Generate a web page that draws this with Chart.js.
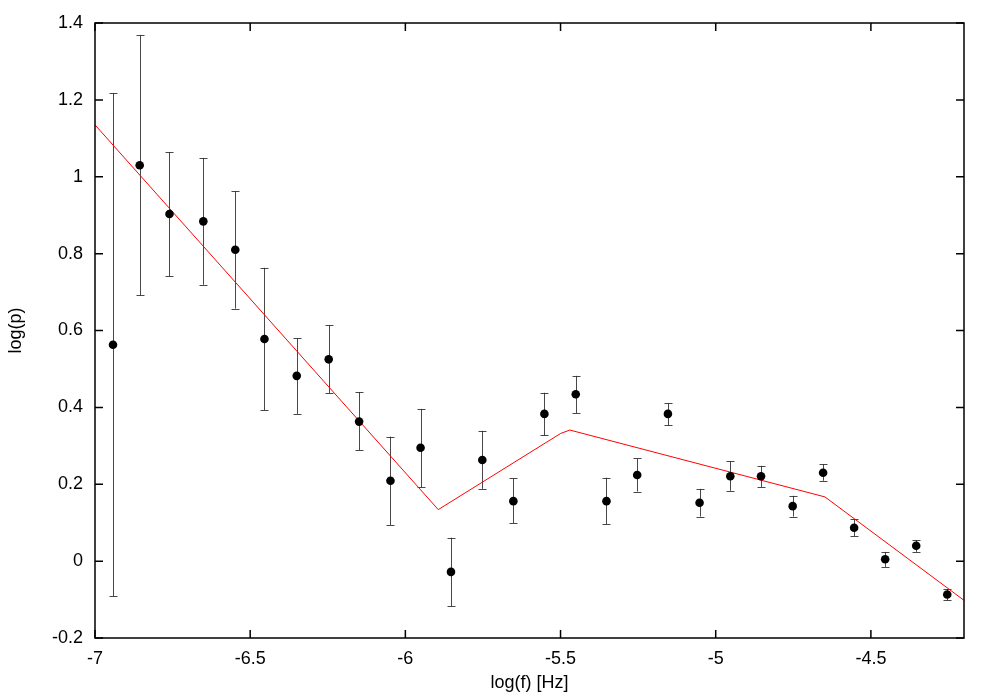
<!DOCTYPE html>
<html>
<head>
<meta charset="utf-8">
<script src="https://cdn.jsdelivr.net/npm/chart.js@4/dist/chart.umd.min.js"></script>
<style>
  html, body { margin: 0; padding: 0; background: #fff; }
  #wrap { width: 1000px; height: 700px; }
</style>
</head>
<body>
<div id="wrap"><canvas id="c" width="1000" height="700"></canvas></div>
<script>
// ---- data ----
const logF = [-6.942,-6.856,-6.760,-6.651,-6.548,-6.454,-6.350,-6.247,-6.149,-6.048,-5.951,-5.853,-5.752,-5.652,-5.552,-5.451,-5.352,-5.253,-5.154,-5.052,-4.953,-4.854,-4.752,-4.654,-4.554,-4.454,-4.354,-4.254];
const logP = [0.563,1.030,0.903,0.884,0.810,0.578,0.482,0.525,0.363,0.209,0.295,-0.028,0.263,0.156,0.383,0.434,0.156,0.224,0.383,0.152,0.221,0.221,0.143,0.230,0.087,0.005,0.040,-0.087];
const errHigh = [1.217,1.369,1.064,1.049,0.962,0.763,0.580,0.614,0.440,0.324,0.396,0.061,0.339,0.215,0.438,0.482,0.217,0.267,0.411,0.188,0.260,0.248,0.170,0.252,0.109,0.024,0.055,-0.073];
const errLow = [-0.092,0.692,0.741,0.719,0.657,0.393,0.383,0.437,0.289,0.094,0.192,-0.118,0.188,0.099,0.327,0.385,0.096,0.181,0.353,0.116,0.183,0.193,0.116,0.209,0.065,-0.015,0.024,-0.102];
const fitX = [-7.0, -5.894, -5.50, -5.470, -4.648, -4.2];
const fitY = [1.135, 0.134, 0.332, 0.341, 0.167, -0.102];
const xTicks = [-7, -6.5, -6, -5.5, -5, -4.5];
const yTicks = [-0.2, 0, 0.2, 0.4, 0.6, 0.8, 1, 1.2, 1.4];
const xTitle = 'log(f) [Hz]';
const yTitle = 'log(p)';

const FONT = 'Liberation Sans, Arial, Helvetica, sans-serif';

const pts = logF.map((x, i) => ({ x: x, y: logP[i], hi: errHigh[i], lo: errLow[i] }));
const fit = fitX.map((x, i) => ({ x: x, y: fitY[i] }));

const frameAndErrors = {
  id: 'frameAndErrors',
  beforeDatasetsDraw(chart) {
    const ctx = chart.ctx;
    const xs = chart.scales.x, ys = chart.scales.y;
    ctx.save();
    ctx.strokeStyle = 'rgba(40,40,40,0.85)';
    ctx.lineWidth = 1;
    pts.forEach(p => {
      const px = Math.round(xs.getPixelForValue(p.x)) + 0.5;
      const yh = ys.getPixelForValue(p.hi);
      const yl = ys.getPixelForValue(p.lo);
      ctx.beginPath();
      ctx.moveTo(px, yh); ctx.lineTo(px, yl);
      ctx.moveTo(px - 4, Math.round(yh) + 0.5); ctx.lineTo(px + 4, Math.round(yh) + 0.5);
      ctx.moveTo(px - 4, Math.round(yl) + 0.5); ctx.lineTo(px + 4, Math.round(yl) + 0.5);
      ctx.stroke();
    });
    ctx.restore();
  },
  afterDraw(chart) {
    const ctx = chart.ctx;
    const a = chart.chartArea;
    const xs = chart.scales.x, ys = chart.scales.y;
    ctx.save();
    ctx.strokeStyle = '#000';
    ctx.lineWidth = 1.5;
    ctx.strokeRect(a.left, a.top, a.right - a.left, a.bottom - a.top);
    const tl = 8;
    ctx.beginPath();
    xTicks.forEach(v => {
      const px = xs.getPixelForValue(v);
      ctx.moveTo(px, a.bottom); ctx.lineTo(px, a.bottom - tl);
      ctx.moveTo(px, a.top); ctx.lineTo(px, a.top + tl);
    });
    yTicks.forEach(v => {
      const py = ys.getPixelForValue(v);
      ctx.moveTo(a.left, py); ctx.lineTo(a.left + tl, py);
      ctx.moveTo(a.right, py); ctx.lineTo(a.right - tl, py);
    });
    ctx.stroke();
    ctx.restore();
  }
};

new Chart(document.getElementById('c'), {
  type: 'scatter',
  data: {
    datasets: [
      {
        type: 'line',
        data: fit,
        borderColor: '#ff0000',
        borderWidth: 1,
        pointRadius: 0,
        fill: false,
        tension: 0,
        order: 2
      },
      {
        type: 'scatter',
        data: pts,
        backgroundColor: '#000',
        borderColor: '#000',
        pointRadius: 4.3,
        borderWidth: 0,
        order: 1
      }
    ]
  },
  options: {
    responsive: false,
    animation: false,
    devicePixelRatio: 1,
    layout: { padding: { left: 0, right: 36, top: 23, bottom: 0 } },
    plugins: { legend: { display: false }, tooltip: { enabled: false } },
    scales: {
      x: {
        type: 'linear',
        min: -7, max: -4.2,
        afterFit(s) { s.height = 62; },
        afterBuildTicks(s) { s.ticks = xTicks.map(v => ({ value: v })); },
        grid: { display: false, drawTicks: false },
        border: { display: false },
        ticks: {
          color: '#000',
          font: { family: FONT, size: 18 },
          padding: 10,
          maxRotation: 0,
          callback: v => String(Number(v.toFixed(1)))
        },
        title: {
          display: true, text: xTitle, color: '#000',
          font: { family: FONT, size: 18 },
          padding: { top: 4, bottom: 6 }
        }
      },
      y: {
        type: 'linear',
        min: -0.2, max: 1.4,
        afterFit(s) { s.width = 95; },
        afterBuildTicks(s) { s.ticks = yTicks.map(v => ({ value: v })); },
        grid: { display: false, drawTicks: false },
        border: { display: false },
        ticks: {
          color: '#000',
          font: { family: FONT, size: 18 },
          padding: 12,
          callback: v => String(Number(v.toFixed(1)))
        },
        title: {
          display: true, text: yTitle, color: '#000',
          font: { family: FONT, size: 18 },
          padding: { top: 5, bottom: 4 }
        }
      }
    }
  },
  plugins: [frameAndErrors]
});
</script>
</body>
</html>
